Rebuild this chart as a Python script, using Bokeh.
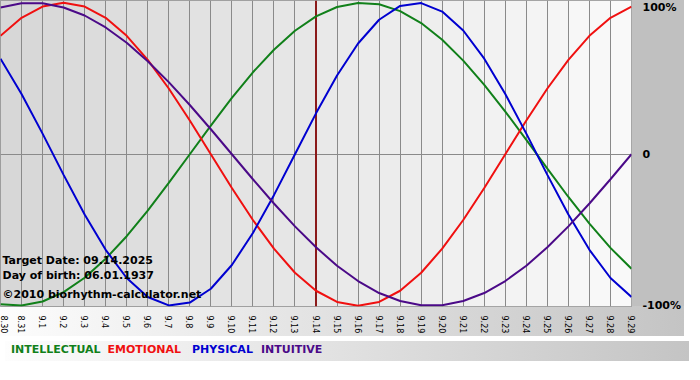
import math
from bokeh.plotting import figure
from bokeh.layouts import column
from bokeh.models import FixedTicker, Span, Label, BoxAnnotation, Div
from bokeh.embed import file_html
from bokeh.resources import INLINE

# ---- data ----
tick_labels = ["8.30", "8.31", "9.1", "9.2", "9.3", "9.4", "9.5", "9.6", "9.7", "9.8",
               "9.9", "9.10", "9.11", "9.12", "9.13", "9.14", "9.15", "9.16", "9.17",
               "9.18", "9.19", "9.20", "9.21", "9.22", "9.23", "9.24", "9.25", "9.26",
               "9.27", "9.28", "9.29"]
days = list(range(len(tick_labels)))
target_day = 15  # 9.14

intellectual = [-0.990, -0.999, -0.972, -0.910, -0.815, -0.690, -0.541, -0.372, -0.189, 0.0,
                0.189, 0.372, 0.541, 0.690, 0.815, 0.910, 0.972, 0.999, 0.990, 0.945,
                0.866, 0.756, 0.618, 0.458, 0.282, 0.095, -0.095, -0.282, -0.458, -0.618,
                -0.756]
emotional = [0.782, 0.901, 0.975, 1.0, 0.975, 0.901, 0.782, 0.623, 0.434, 0.223,
             0.0, -0.223, -0.434, -0.623, -0.782, -0.901, -0.975, -1.0, -0.975, -0.901,
             -0.782, -0.623, -0.434, -0.223, 0.0, 0.223, 0.434, 0.623, 0.782, 0.901,
             0.975]
physical = [0.631, 0.398, 0.136, -0.136, -0.398, -0.631, -0.817, -0.942, -0.998, -0.979,
            -0.888, -0.731, -0.520, -0.270, 0.0, 0.270, 0.520, 0.731, 0.888, 0.979,
            0.998, 0.942, 0.817, 0.631, 0.398, 0.136, -0.136, -0.398, -0.631, -0.817,
            -0.942]
intuitive = [0.969, 0.997, 0.997, 0.969, 0.916, 0.837, 0.736, 0.614, 0.476, 0.325,
             0.165, 0.0, -0.165, -0.325, -0.476, -0.614, -0.736, -0.837, -0.916, -0.969,
             -0.997, -0.997, -0.969, -0.916, -0.837, -0.736, -0.614, -0.476, -0.325, -0.165,
             0.0]

series_names = ["INTELLECTUAL", "EMOTIONAL", "PHYSICAL", "INTUITIVE"]
series_values = [intellectual, emotional, physical, intuitive]
series_colors = ["#11801a", "#f01010", "#0000d0", "#4b0a88"]

right_ticks = [-1, 0, 1]
right_labels = ["-100%", "0", "100%"]

info_lines = ["Target Date: 09.14.2025", "Day of birth: 06.01.1937",
              "\u00a92010 biorhythm-calculator.net"]

FONT = "DejaVu Sans"
W = 684

p = figure(width=W, height=336, output_backend="svg", toolbar_location=None,
           x_range=(days[0], days[-1]), y_range=(-1.005, 1.015),
           y_axis_location="right",
           min_border_left=0, min_border_top=0, min_border_right=49, min_border_bottom=30)

p.border_fill_alpha = 0
p.background_fill_color = "#e6e6e6"
p.outline_line_color = "#8a8a8a"
p.styles = {
    "background": "linear-gradient(to right, #fdfdfd, #c4c4c4) left bottom / 100% 30px no-repeat, #c0c0c0"
}

# column shading (light ramp left->right)
n_cols = len(days) - 1
for i in range(n_cols):
    g = round(215 + 34 * i / (n_cols - 1))
    p.add_layout(BoxAnnotation(left=days[i], right=days[i + 1],
                               fill_color="#%02x%02x%02x" % (g, g, g), fill_alpha=1,
                               line_color=None, level="image"))

# grids
p.xgrid.ticker = FixedTicker(ticks=days)
p.xgrid.grid_line_color = "#8a8a8a"
p.xgrid.grid_line_alpha = 1
p.ygrid.ticker = FixedTicker(ticks=[0])
p.ygrid.grid_line_color = "#8a8a8a"
p.ygrid.grid_line_alpha = 1

# x axis
xa = p.xaxis[0]
xa.ticker = FixedTicker(ticks=days)
xa.major_label_overrides = {d: lab for d, lab in zip(days, tick_labels)}
xa.major_label_orientation = -math.pi / 2
xa.major_label_text_font = FONT
xa.major_label_text_font_size = "8px"
xa.major_label_text_color = "#000000"
xa.major_label_standoff = 3
xa.axis_line_color = None
xa.major_tick_line_color = None
xa.minor_tick_line_color = None

# right axis
ya = p.yaxis[0]
ya.ticker = FixedTicker(ticks=right_ticks)
ya.major_label_overrides = {t: lab for t, lab in zip(right_ticks, right_labels)}
ya.major_label_text_font = FONT
ya.major_label_text_font_style = "bold"
ya.major_label_text_font_size = "11px"
ya.major_label_text_color = "#000000"
ya.major_label_standoff = 5
ya.axis_line_color = None
ya.major_tick_line_color = None
ya.minor_tick_line_color = None

# target date line
p.add_layout(Span(location=target_day, dimension="height", line_color="#8b1a1a",
                  line_width=2, level="underlay"))

# curves
for vals, col in zip(series_values, series_colors):
    p.line(days, vals, line_color=col, line_width=2)

# info texts inside the plot
for txt, yoff in zip(info_lines, [46, 31, 12]):
    p.add_layout(Label(x=2, y=yoff, x_units="screen", y_units="screen", text=txt,
                       text_font=FONT, text_font_style="bold", text_font_size="11px",
                       text_color="#000000", text_baseline="middle"))

# legend strip: coloured words
lefts = [6, 7, 11, 8]
spans = "".join(
    '<span style="color:%s;margin-left:%dpx">%s</span>' % (c, m, n)
    for n, c, m in zip(series_names, series_colors, lefts)
)
legend = Div(text=spans, width=W, height=28,
             styles={"background": "linear-gradient(to right, #fdfdfd, #c4c4c4) left top / 100% 20px no-repeat, #ffffff",
                     "font-family": FONT, "font-weight": "bold", "font-size": "11px",
                     "line-height": "18px", "white-space": "nowrap", "overflow": "hidden"})

layout = column(p, legend, spacing=0)
open("out.html", "w").write(file_html(layout, INLINE))
